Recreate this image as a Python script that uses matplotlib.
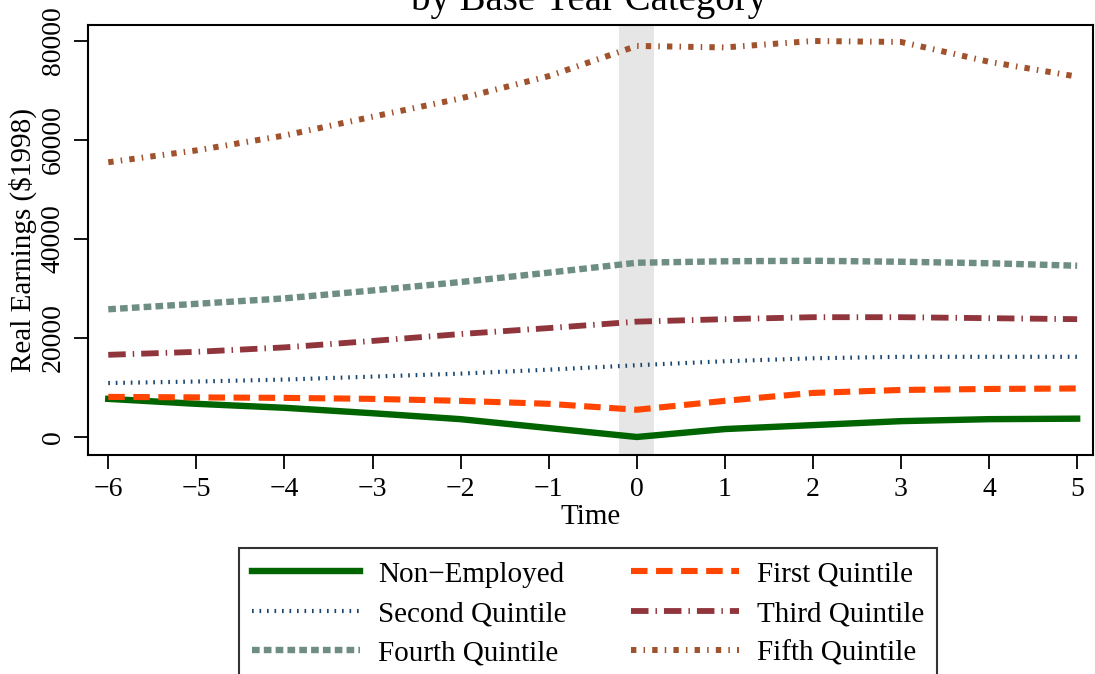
import matplotlib
matplotlib.use("Agg")
import matplotlib.pyplot as plt

plt.rcParams['font.family'] = ['Liberation Serif', 'DejaVu Serif']
plt.rcParams['font.size'] = 21

time = [-6, -5, -4, -3, -2, -1, 0, 1, 2, 3, 4, 5]
non_employed = [7700, 6700, 5900, 4800, 3600, 1800, 0, 1600, 2400, 3200, 3600, 3700]
first_q = [8100, 8000, 7900, 7700, 7300, 6700, 5500, 7300, 8900, 9500, 9700, 9800]
second_q = [10900, 11200, 11600, 12200, 12800, 13600, 14500, 15300, 15900, 16200, 16200, 16200]
third_q = [16600, 17200, 18100, 19400, 20800, 22000, 23300, 23800, 24200, 24200, 24000, 23800]
fourth_q = [25800, 26900, 28000, 29600, 31300, 33200, 35200, 35500, 35600, 35400, 35100, 34600]
fifth_q = [55500, 57900, 60900, 64700, 68400, 72900, 79000, 78700, 80000, 79800, 75800, 72800]

labels = ["Non\u2212Employed", "First Quintile", "Second Quintile",
          "Third Quintile", "Fourth Quintile", "Fifth Quintile"]
x_ticks = [-6, -5, -4, -3, -2, -1, 0, 1, 2, 3, 4, 5]
y_ticks = [0, 20000, 40000, 60000, 80000]

fig = plt.figure(figsize=(10.95, 6.74), dpi=100)
ax = fig.add_axes([88/1095, 1-455/674, (1093-88)/1095, (455-25)/674])

ax.axvspan(-0.2, 0.2, color='#e6e6e6', lw=0, zorder=0)

ax.plot(time, non_employed, color='#006400', lw=4.6, ls='-', label=labels[0], zorder=3)
ax.plot(time, first_q, color='#ff4500', lw=4.4, ls=(0, (2.7, 1.4)), label=labels[1], zorder=3)
ax.plot(time, second_q, color='#1a476f', lw=3.0, ls=(0, (0.4, 1.4)), label=labels[2], zorder=3)
ax.plot(time, third_q, color='#90353b', lw=4.2, ls=(0, (3.0, 1.2, 0.25, 1.2)), label=labels[3], zorder=3)
ax.plot(time, fourth_q, color='#6e8e84', lw=4.6, ls=(0, (1.2, 0.65)), label=labels[4], zorder=3)
ax.plot(time, fifth_q, color='#a0522d', lw=4.3, ls=(0, (0.9, 1.2, 0.25, 1.2)), label=labels[5], zorder=3)

ax.set_xlim(-6.23, 5.18)
ax.set_ylim(-3640, 83230)
ax.set_xticks(x_ticks)
ax.set_yticks(y_ticks)
ax.set_yticklabels([str(v) for v in y_ticks], rotation=90, va='center')
ax.tick_params(axis='both', direction='out', length=10, width=1.3, labelsize=20, pad=6)
for s in ax.spines.values():
    s.set_linewidth(1.5)

ax.set_xlabel("Time", fontsize=21, labelpad=1)
ax.set_ylabel("Real Earnings (\\$1998)", fontsize=21, labelpad=3)

fig.text(589/1095, 1-10/674, "by Base Year Category", ha='center', va='baseline', fontsize=28)

handles, labs = ax.get_legend_handles_labels()
order = [0, 2, 4, 1, 3, 5]
leg = fig.legend([handles[i] for i in order], [labs[i] for i in order],
                 loc='upper center', bbox_to_anchor=(588/1095, 1-548/674),
                 borderaxespad=0,
                 ncol=2, frameon=True, fancybox=False, edgecolor='black',
                 fontsize=21, handlelength=3.7, handletextpad=0.62,
                 columnspacing=2.2, labelspacing=0.45, borderpad=0.45)
leg.get_frame().set_linewidth(1.5)

fig.savefig("out.png", dpi=100)
